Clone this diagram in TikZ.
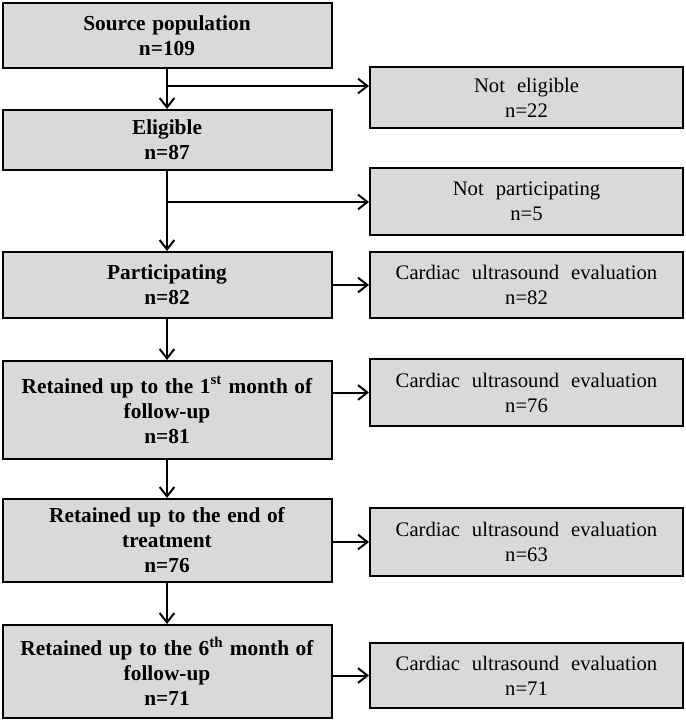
\documentclass[tikz,border=0pt]{standalone}
\usepackage{fontspec}
\setmainfont{Liberation Serif}
\usetikzlibrary{arrows.meta}

\newcommand\leftfont{\fontsize{16}{18.75}\selectfont\bfseries\spaceskip 0.31em\relax}
\newcommand\rightfont{\fontsize{15.5}{18.75}\selectfont\spaceskip 0.58em\relax}

\begin{document}
\begin{tikzpicture}[x=0.75pt,y=0.75pt,yscale=-1,
  leftbox/.style={draw,line width=1.5pt,fill={rgb,255:red,217;green,217;blue,217},minimum width=246.75pt,align=center,font=\leftfont},
  rightbox/.style={draw,line width=1.5pt,fill={rgb,255:red,217;green,217;blue,217},minimum width=234.75pt,align=center,font=\rightfont},
  arr/.style={line width=1.5pt,-{Straight Barb[length=7pt,width=11pt,line width=1.5pt]}}]
\useasboundingbox (0,0) rectangle (685,720);

% left column
\node [leftbox,minimum height=48.75pt] (src) at (167,35.5) {Source population\\n=109};
\node [leftbox,minimum height=45pt] (elig) at (167,140) {Eligible\\n=87};
\node [leftbox,minimum height=49.5pt] (part) at (167,285) {Participating\\n=82};
\node [leftbox,minimum height=73.5pt] (ret1) at (167,410) {Retained up to the 1\textsuperscript{st} month of\\follow-up\\n=81};
\node [leftbox,minimum height=62.25pt] (retend) at (167,540.5) {Retained up to the end of\\treatment\\n=76};
\node [leftbox,minimum height=69.75pt] (ret6) at (167,671.5) {Retained up to the 6\textsuperscript{th} month of\\follow-up\\n=71};

% right column
\node [rightbox,minimum height=45.75pt] (ne) at (526.5,97.5) {Not eligible\\n=22};
\node [rightbox,minimum height=50.25pt] (np) at (526.5,201.5) {Not participating\\n=5};
\node [rightbox,minimum height=49.5pt] (c82) at (526.5,285) {Cardiac ultrasound evaluation\\n=82};
\node [rightbox,minimum height=50.25pt] (c76) at (526.5,392.5) {Cardiac ultrasound evaluation\\n=76};
\node [rightbox,minimum height=51pt] (c63) at (526.5,542) {Cardiac ultrasound evaluation\\n=63};
\node [rightbox,minimum height=48.75pt] (c71) at (526.5,675.5) {Cardiac ultrasound evaluation\\n=71};

% branch points
\coordinate (b1) at (167,86);
\coordinate (b2) at (167,202);

% arrows
\draw [arr] (src) -- (elig);
\draw [arr] (b1) -- (b1 -| ne.west);
\draw [arr] (elig) -- (part);
\draw [arr] (b2) -- (b2 -| np.west);
\draw [arr] (part) -- (ret1);
\draw [arr] (ret1) -- (retend);
\draw [arr] (retend) -- (ret6);
\draw [arr] (part) -- (c82);
\draw [arr] (ret1.east |- c76) -- (c76.west);
\draw [arr] (retend.east |- c63) -- (c63.west);
\draw [arr] (ret6.east |- c71) -- (c71.west);

\end{tikzpicture}
\end{document}
